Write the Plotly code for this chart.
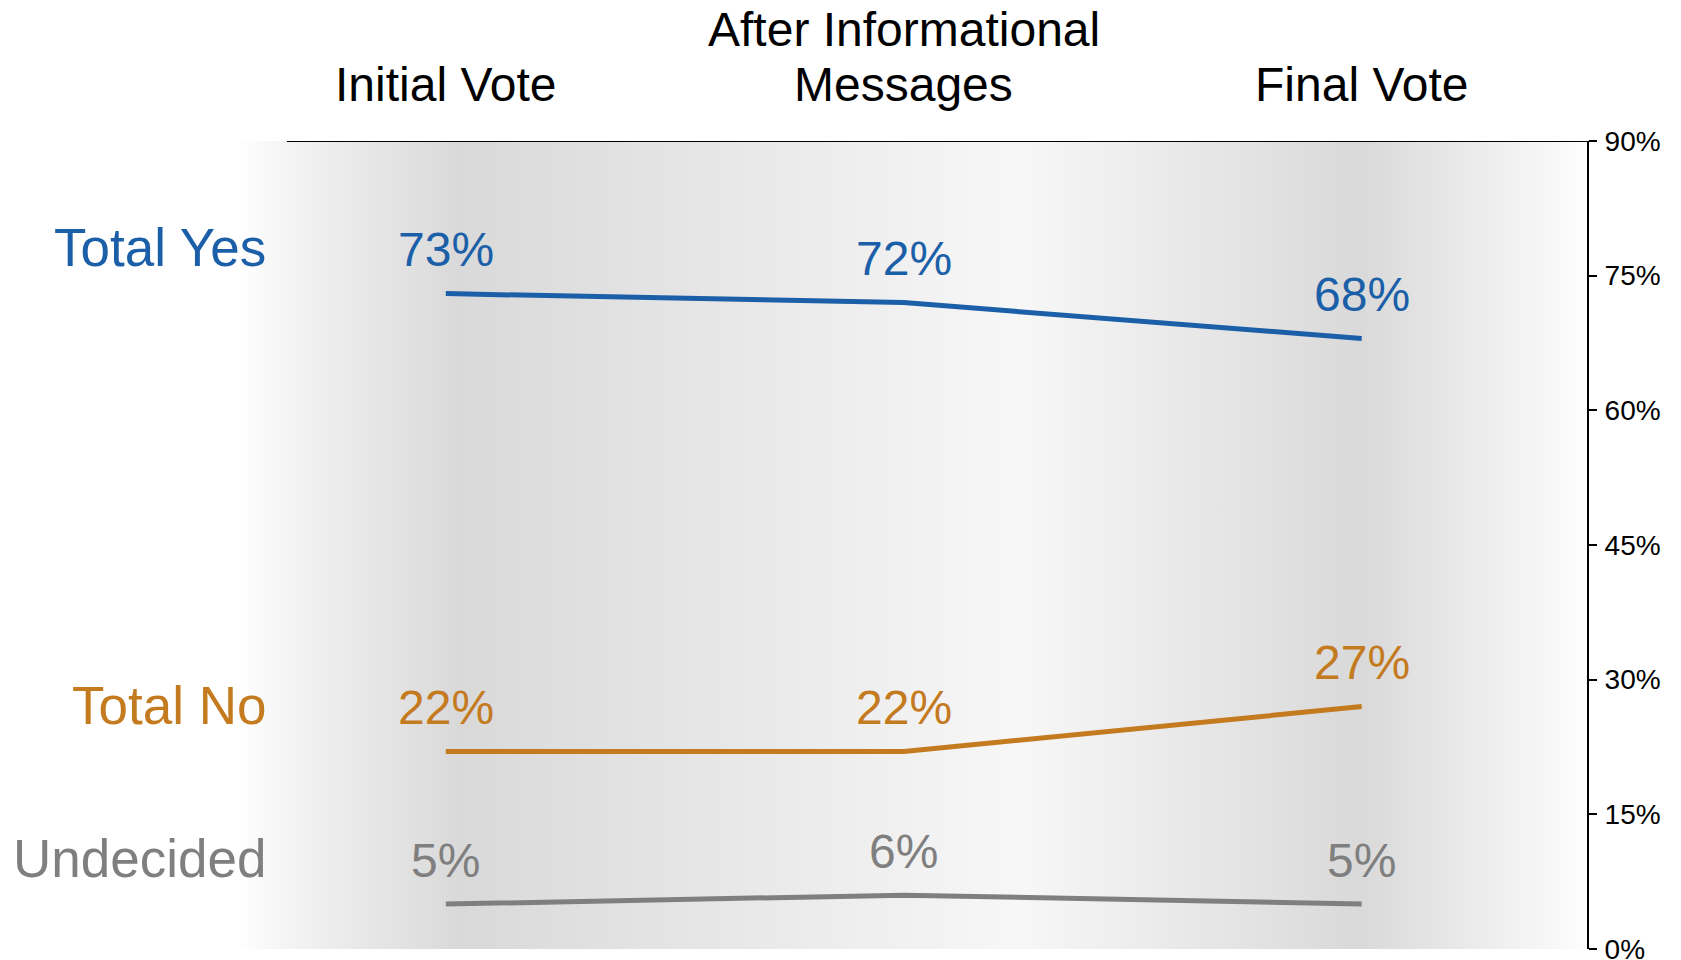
import plotly.graph_objects as go

# ---- data ----
categories = ["Initial Vote", "After Informational<br>Messages", "Final Vote"]
series_names = ["Total Yes", "Total No", "Undecided"]
total_yes = [73, 72, 68]
total_no = [22, 22, 27]
undecided = [5, 6, 5]
y_ticks = [0, 15, 30, 45, 60, 75, 90]
y_tick_labels = ["0%", "15%", "30%", "45%", "60%", "75%", "90%"]

# ---- style ----
colors = ["#1B5FA8", "#C47A1E", "#7F7F7F"]
FONT = "Arial, Liberation Sans, sans-serif"
W, H = 1681, 960
X_RANGE = [-0.456, 2.492]
Y_RANGE = [0, 90]

xs = list(range(len(categories)))
values = [total_yes, total_no, undecided]

fig = go.Figure()

# gradient background (horizontal)
grad_scale = [
    [0.0, "rgb(255,255,255)"],
    [0.04, "rgb(243,243,243)"],
    [0.165, "rgb(217,217,217)"],
    [0.58, "rgb(247,247,247)"],
    [0.832, "rgb(217,217,217)"],
    [1.0, "rgb(253,253,253)"],
]
fig.add_trace(go.Scatter(
    x=[X_RANGE[0], X_RANGE[1], X_RANGE[1], X_RANGE[0], X_RANGE[0]],
    y=[Y_RANGE[0], Y_RANGE[0], Y_RANGE[1], Y_RANGE[1], Y_RANGE[0]],
    fill="toself", mode="lines", line=dict(width=0),
    fillgradient=dict(type="horizontal", colorscale=grad_scale,
                      start=X_RANGE[0], stop=X_RANGE[1]),
    hoverinfo="skip", showlegend=False,
))

for name, vals, col in zip(series_names, values, colors):
    fig.add_trace(go.Scatter(
        x=xs, y=vals, mode="lines", name=name,
        line=dict(color=col, width=5), showlegend=False,
    ))
    for xi, v in zip(xs, vals):
        fig.add_annotation(x=xi, y=v, text=f"{v}%", showarrow=False,
                           yshift=44, yanchor="middle",
                           font=dict(family=FONT, size=48, color=col))
    fig.add_annotation(x=-0.389, y=vals[0], text=name, showarrow=False,
                       xanchor="right", yanchor="middle", yshift=46,
                       font=dict(family=FONT, size=53, color=col))

# category headers above the top rule (one annotation per text line)
for xi, cat in zip(xs, categories):
    lines = cat.split("<br>")
    n = len(lines)
    for i, ln in enumerate(lines):
        k = n - 1 - i
        fig.add_annotation(x=xi, xref="x", y=1, yref="paper", text=ln,
                           showarrow=False, yanchor="middle", yshift=57 + 55 * k,
                           font=dict(family=FONT, size=48, color="black"))

# top rule
fig.add_shape(type="line", xref="x", yref="y", x0=-0.347, x1=X_RANGE[1],
              y0=Y_RANGE[1], y1=Y_RANGE[1], line=dict(color="black", width=2))

fig.update_layout(
    width=W, height=H,
    margin=dict(l=229, r=102, t=133, b=19, pad=0, autoexpand=False),
    paper_bgcolor="white", plot_bgcolor="rgba(0,0,0,0)",
    font=dict(family=FONT),
    xaxis=dict(range=X_RANGE, showgrid=False, zeroline=False, automargin=False,
               showticklabels=False, showline=False, ticks=""),
    yaxis=dict(range=Y_RANGE, side="right", tickvals=y_ticks, automargin=False,
               ticktext=y_tick_labels, showgrid=False, zeroline=False,
               showline=True, linecolor="black", linewidth=2,
               ticks="outside", ticklen=8, tickwidth=2, tickcolor="black",
               ticklabelstandoff=2,
               tickfont=dict(family=FONT, size=28, color="black")),
)

fig.write_html("out.html")
